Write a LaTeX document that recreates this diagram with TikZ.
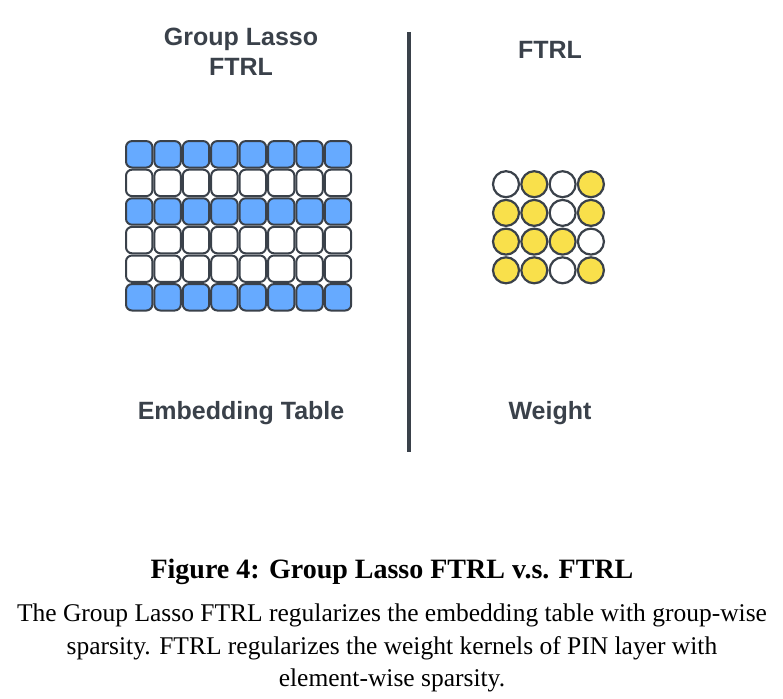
\documentclass[tikz,border=0pt]{standalone}
\usepackage{fontspec}
\setmainfont{Liberation Serif}
\newfontfamily\hsans{Liberation Sans}
\definecolor{ink}{HTML}{3A414A}
\definecolor{cellblue}{HTML}{66AAFF}
\definecolor{cellyellow}{HTML}{F9E04B}
\tikzset{
  ecell/.style={draw=ink, line width=2pt, rounded corners=6pt, minimum size=26.4pt, inner sep=0pt, outer sep=0pt},
  wcell/.style={draw=ink, circle, line width=2.2pt, minimum size=26pt, inner sep=0pt},
  lbl/.style={text=ink, font=\hsans\bfseries\fontsize{25}{30}\selectfont, align=center, inner sep=0pt},
  captext/.style={text=black, inner sep=0pt, font=\fontsize{25.5}{30}\selectfont}
}
\begin{document}
\begin{tikzpicture}[x=1pt,y=-1pt]
\useasboundingbox (0,0) rectangle (783,698);
% embedding table
\foreach \r/\f in {0/cellblue,1/white,2/cellblue,3/white,4/white,5/cellblue}{
  \foreach \c in {0,...,7}{
    \node[ecell, fill=\f] (e-\r-\c) at ({139.2+28.4*\c},{154.3+28.6*\r}) {};
  }
}
% weight
\foreach \r/\pattern in {0/{0,1,0,1},1/{1,1,0,1},2/{1,1,1,0},3/{1,1,0,1}}{
  \foreach \v [count=\c from 0] in \pattern{
    \ifnum\v=1 \def\wf{cellyellow}\else\def\wf{white}\fi
    \node[wcell, fill=\wf] (w-\r-\c) at ({506+28.3*\c},{184.2+28.7*\r}) {};
  }
}
% divider
\coordinate (dtop) at (409,32);
\coordinate (dbot) at (409,452);
\draw[ink, line width=3.5pt] (dtop) -- (dbot);
% labels
\node[lbl] (t1) at (241,52) {Group Lasso\\FTRL};
\node[lbl] (t2) at (550,50) {FTRL};
\node[lbl] (b1) at (241,413) {Embedding Table};
\node[lbl] (b2) at (550,413) {Weight};
% caption
\node[captext, font=\bfseries\fontsize{28}{32}\selectfont] (ct) at (392,572) {Figure 4: Group Lasso FTRL v.s. FTRL};
\node[captext] (c1) at (392,615) {The Group Lasso FTRL regularizes the embedding table with group-wise};
\node[captext] (c2) at (392,648) {sparsity. FTRL regularizes the weight kernels of PIN layer with};
\node[captext] (c3) at (392,680) {element-wise sparsity.};
\end{tikzpicture}
\end{document}
